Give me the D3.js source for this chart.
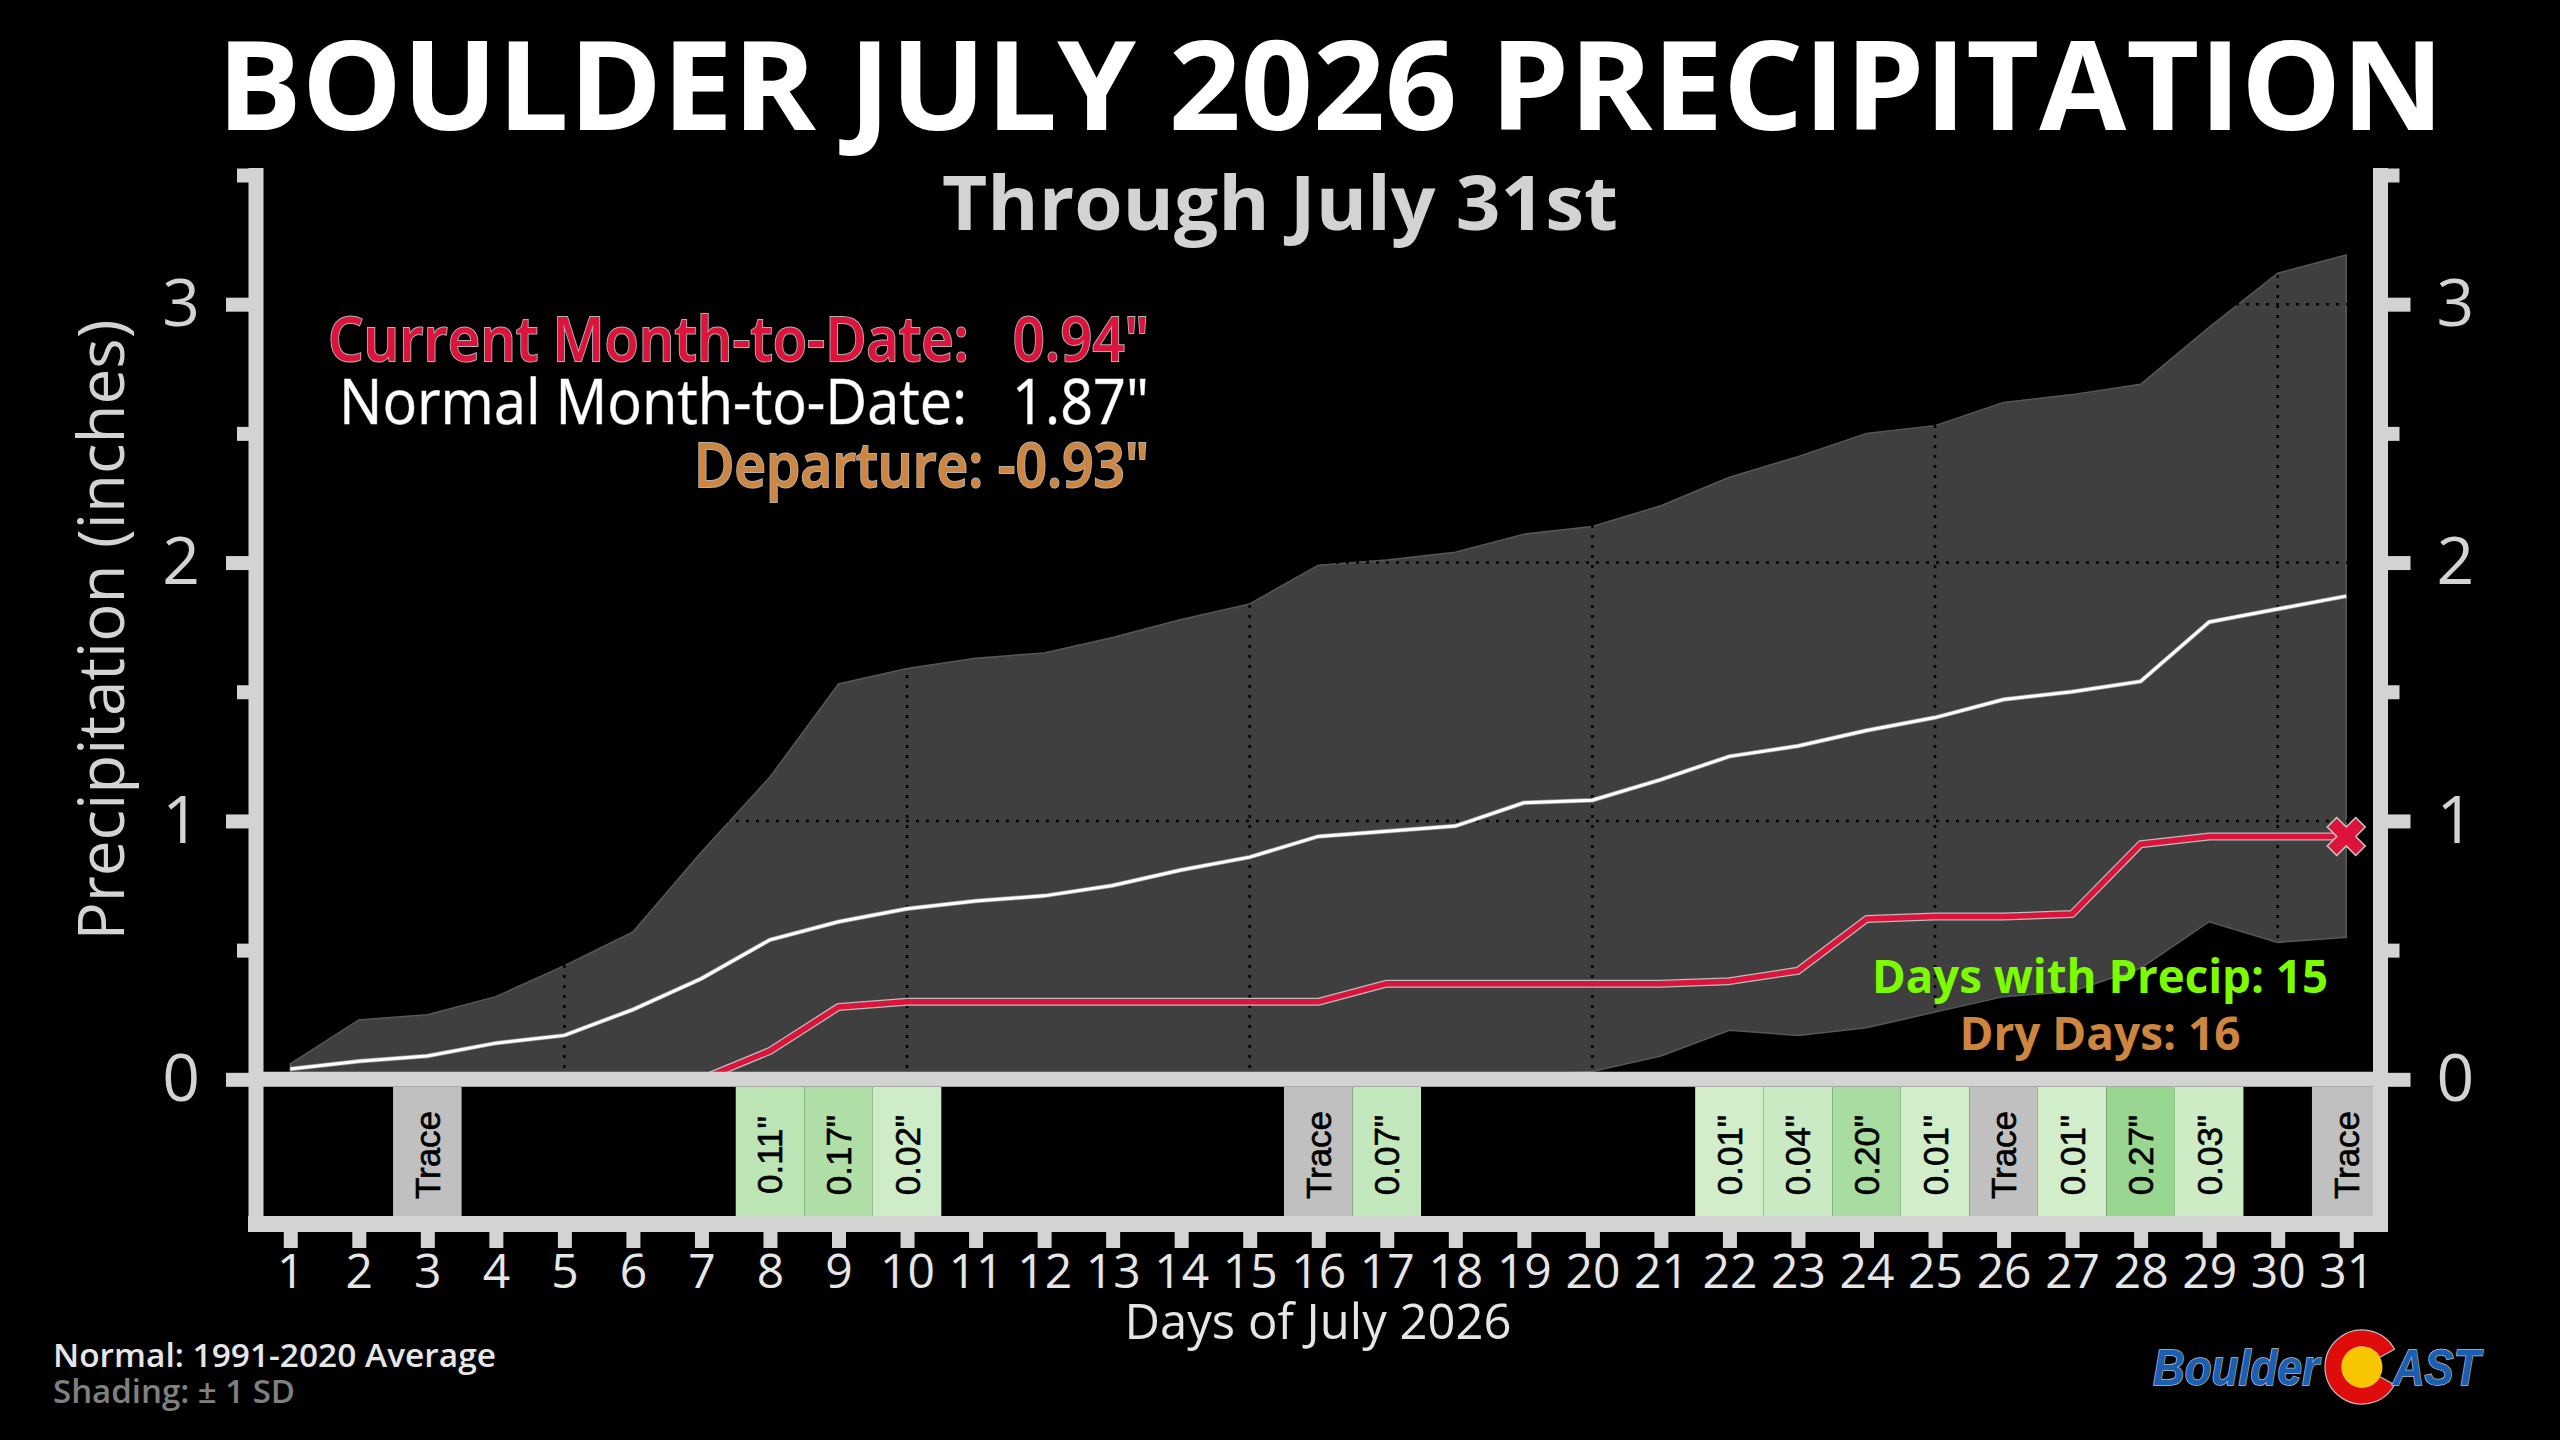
<!DOCTYPE html>
<html>
<head>
<meta charset="utf-8">
<script src="https://cdnjs.cloudflare.com/ajax/libs/d3/7.8.5/d3.min.js"></script>
<style>
  html, body { margin: 0; padding: 0; background: #000; }
  svg { display: block; }
  text { font-family: 'Open Sans', 'Noto Sans', sans-serif; white-space: pre; }
</style>
</head>
<body>
<div id="chart_area"></div>
<script>
// data
const days = d3.range(1, 32);
// daily amounts: 'T' = trace, 0 = dry
const dailyPrecip = [0, 0, 'T', 0, 0, 0, 0, 0.11, 0.17, 0.02, 0, 0, 0, 0, 0, 'T', 0.07, 0, 0, 0,
  0, 0.01, 0.04, 0.20, 0.01, 'T', 0.01, 0.27, 0.03, 0, 'T'];
const currentToDate = [0, 0, 0, 0, 0, 0, 0, 0.11, 0.28, 0.30, 0.30, 0.30, 0.30, 0.30, 0.30, 0.30,
  0.37, 0.37, 0.37, 0.37, 0.37, 0.38, 0.42, 0.62, 0.63, 0.63, 0.64, 0.91, 0.94, 0.94, 0.94];
const normalToDate = [0.04, 0.07, 0.09, 0.14, 0.17, 0.27, 0.39, 0.54, 0.61, 0.66, 0.69, 0.71, 0.75,
  0.81, 0.86, 0.94, 0.96, 0.98, 1.07, 1.08, 1.16, 1.25, 1.29, 1.35, 1.40, 1.47, 1.50, 1.54, 1.77, 1.82, 1.87];
const upperSD = [0.06, 0.23, 0.25, 0.32, 0.44, 0.57, 0.88, 1.17, 1.53, 1.59, 1.63, 1.65, 1.71, 1.78,
  1.84, 1.99, 2.01, 2.04, 2.11, 2.14, 2.22, 2.33, 2.41, 2.50, 2.53, 2.62, 2.65, 2.69, 2.91, 3.12, 3.19];
// lower edge is under zero (clipped) until about day 19
const lowerSD = [0, 0, 0, 0, 0, 0, 0, 0, 0, 0, 0, 0, 0, 0, 0, 0, 0, 0, 0.02, 0.03,
  0.09, 0.19, 0.17, 0.20, 0.26, 0.32, 0.34, 0.43, 0.61, 0.53, 0.55];
const yMajorTicks = [0, 1, 2, 3];
const yMinorTicks = [0.5, 1.5, 2.5, 3.5];
const gridDays = [5, 10, 15, 20, 25, 30];
const monthTotal = 0.94, normalTotal = 1.87, departure = -0.93;
const wetDays = 15, dryDays = 16;

const W = 2560, H = 1440;
const axisGray = '#d3d3d3';

const x = d3.scaleLinear().domain([0.5, 31.5]).range([256, 2380.5]);
const y = d3.scaleLinear().domain([-0.56, 3.5]).range([1224, 175]);

const svg = d3.select('#chart_area').append('svg')
  .attr('width', W).attr('height', H)
  .style('background', '#000');

// clip for the cumulative panel (above zero)
svg.append('clipPath').attr('id', 'plotClip')
  .append('rect')
  .attr('x', x(0.5)).attr('y', y(3.5))
  .attr('width', x(31.5) - x(0.5)).attr('height', y(0) - y(3.5));

const plot = svg.append('g').attr('clip-path', 'url(#plotClip)');

// +/- 1 SD shading
const band = d3.area()
  .x((d, i) => x(days[i]))
  .y0((d, i) => y(lowerSD[i]))
  .y1((d, i) => y(upperSD[i]));
plot.append('path')
  .datum(upperSD)
  .attr('d', band)
  .attr('fill', '#3f3f3f')
  .attr('stroke', '#575757')
  .attr('stroke-width', 1.5);

// dotted grid (only shows over the shading)
plot.selectAll('line.hgrid').data([1, 2, 3]).enter().append('line')
  .attr('class', 'hgrid')
  .attr('x1', x(0.5)).attr('x2', x(31.5))
  .attr('y1', d => y(d)).attr('y2', d => y(d))
  .attr('stroke', '#000').attr('stroke-width', 2.5).attr('stroke-dasharray', '3,7');
plot.selectAll('line.vgrid').data(gridDays).enter().append('line')
  .attr('class', 'vgrid')
  .attr('x1', d => x(d)).attr('x2', d => x(d))
  .attr('y1', y(3.5)).attr('y2', y(0))
  .attr('stroke', '#000').attr('stroke-width', 2.5).attr('stroke-dasharray', '3,7');

const line = d3.line().x((d, i) => x(days[i])).y(d => y(d));

// normal
plot.append('path').datum(normalToDate).attr('d', line)
  .attr('fill', 'none').attr('stroke', '#9a9a9a').attr('stroke-width', 4.5);
plot.append('path').datum(normalToDate).attr('d', line)
  .attr('fill', 'none').attr('stroke', '#fff').attr('stroke-width', 3);

// current
plot.append('path').datum(currentToDate).attr('d', line)
  .attr('fill', 'none').attr('stroke', '#bdbdbd').attr('stroke-width', 8)
  .attr('stroke-linejoin', 'round');
plot.append('path').datum(currentToDate).attr('d', line)
  .attr('fill', 'none').attr('stroke', '#dc143c').attr('stroke-width', 5.5)
  .attr('stroke-linejoin', 'round');

// end marker
svg.append('path')
  .attr('d', d3.symbol().type(d3.symbolCross).size(900)())
  .attr('transform', `translate(${x(31)},${y(monthTotal)}) rotate(45)`)
  .attr('fill', '#dc143c').attr('stroke', '#c8c8c8').attr('stroke-width', 1.5);

// daily boxes
const greens = d3.scaleLinear().domain([0, 0.3]).range(['#d3eecc', '#93d38a']);
const boxTop = y(0) + 7.5, boxBottom = 1216;
const boxes = svg.append('g');
const wet = days.filter((d, i) => dailyPrecip[i] !== 0);
boxes.selectAll('rect').data(wet).enter().append('rect')
  .attr('x', d => x(d - 0.5))
  .attr('width', d => x(d + 0.5) - x(d - 0.5))
  .attr('y', boxTop)
  .attr('height', boxBottom - boxTop)
  .attr('fill', d => dailyPrecip[d - 1] === 'T' ? '#c0c0c0' : greens(dailyPrecip[d - 1]));
boxes.selectAll('text').data(wet).enter().append('text')
  .attr('transform', d => `translate(${x(d)},1155) rotate(-90)`)
  .attr('text-anchor', 'middle')
  .attr('dominant-baseline', 'central')
  .style('font-family', "'Liberation Sans', Arial, sans-serif")
  .style('font-size', '35px')
  .attr('fill', '#000')
  .attr('stroke', '#000').attr('stroke-width', 0.6)
  .text(d => dailyPrecip[d - 1] === 'T' ? 'Trace' : dailyPrecip[d - 1].toFixed(2) + '"');

// frame lines
svg.append('line').attr('x1', x(0.5)).attr('x2', x(31.5)).attr('y1', y(0)).attr('y2', y(0))
  .attr('stroke', axisGray).attr('stroke-width', 15);
svg.append('line').attr('x1', 248).attr('x2', 2388).attr('y1', 1224).attr('y2', 1224)
  .attr('stroke', axisGray).attr('stroke-width', 16);
svg.append('line').attr('x1', x(0.5)).attr('x2', x(0.5)).attr('y1', 168).attr('y2', 1232)
  .attr('stroke', axisGray).attr('stroke-width', 15);
svg.append('line').attr('x1', x(31.5)).attr('x2', x(31.5)).attr('y1', 168).attr('y2', 1232)
  .attr('stroke', axisGray).attr('stroke-width', 15);

function styleAxis(g, size) {
  g.select('.domain').remove();
  g.selectAll('line').attr('stroke', axisGray).attr('stroke-width', 14);
  g.selectAll('text')
    .attr('fill', axisGray)
    .style('font-family', "'Open Sans', sans-serif")
    .style('font-size', size + 'px')
    .style('font-weight', 500);
}

// y axes
svg.append('g').attr('transform', `translate(${x(0.5)},0)`)
  .call(d3.axisLeft(y).tickValues(yMajorTicks).tickSize(30).tickPadding(26).tickFormat(d3.format('d')))
  .call(g => styleAxis(g, 66));
svg.append('g').attr('transform', `translate(${x(0.5)},0)`)
  .call(d3.axisLeft(y).tickValues(yMinorTicks).tickSize(19).tickFormat(''))
  .call(g => styleAxis(g, 66));
svg.append('g').attr('transform', `translate(${x(31.5)},0)`)
  .call(d3.axisRight(y).tickValues(yMajorTicks).tickSize(30).tickPadding(26).tickFormat(d3.format('d')))
  .call(g => styleAxis(g, 66));
svg.append('g').attr('transform', `translate(${x(31.5)},0)`)
  .call(d3.axisRight(y).tickValues(yMinorTicks).tickSize(19).tickFormat(''))
  .call(g => styleAxis(g, 66));

// x axis
svg.append('g').attr('transform', 'translate(0,1224)')
  .call(d3.axisBottom(x).tickValues(days).tickSize(24).tickPadding(6).tickFormat(d3.format('d')))
  .call(g => styleAxis(g, 48))
  .call(g => g.selectAll('text').attr('fill', '#e6e6e6'));

// titles and labels
function label(txt, opts) {
  const t = svg.append('text')
    .attr('x', opts.x).attr('y', opts.y)
    .attr('text-anchor', opts.anchor || 'start')
    .attr('fill', opts.fill || '#fff')
    .style('font-size', opts.size + 'px')
    .style('font-weight', opts.weight || 400)
    .text(txt);
  if (opts.len) t.attr('textLength', opts.len).attr('lengthAdjust', 'spacingAndGlyphs');
  if (opts.stroke) t.attr('stroke', opts.stroke).attr('stroke-width', opts.sw || 2).attr('paint-order', 'stroke');
  if (opts.rotate) t.attr('transform', `rotate(${opts.rotate},${opts.x},${opts.y})`);
  return t;
}

label('BOULDER JULY 2026 PRECIPITATION', { x: 217, y: 130, size: 124, weight: 700, len: 2227 });
label('Through July 31st', { x: 942, y: 230, size: 76, weight: 700, fill: axisGray, len: 676 });

label('Current Month-to-Date:   ' + monthTotal.toFixed(2) + '"', { x: 1149, y: 361, anchor: 'end', size: 62, weight: 600, fill: '#dc143c', stroke: '#b0b0b0', len: 821 });
label('Normal Month-to-Date:   ' + normalTotal.toFixed(2) + '"', { x: 1149, y: 424, anchor: 'end', size: 62, weight: 500, fill: '#fff', stroke: '#888', sw: 1, len: 810 });
label('Departure: ' + departure.toFixed(2) + '"', { x: 1149, y: 487, anchor: 'end', size: 62, weight: 600, fill: '#cd853f', stroke: '#b0b0b0', len: 455 });

label('Days with Precip: ' + wetDays, { x: 2100, y: 993, anchor: 'middle', size: 46, weight: 700, fill: '#7cfc00', len: 456 });
label('Dry Days: ' + dryDays, { x: 2100, y: 1050, anchor: 'middle', size: 46, weight: 700, fill: '#cd853f', len: 281 });

label('Precipitation (inches)', { x: 124, y: 630, anchor: 'middle', size: 64, fill: axisGray, len: 621, rotate: -90 });
label('Days of July 2026', { x: 1318, y: 1339, anchor: 'middle', size: 50, fill: '#e6e6e6', len: 387 });

label('Normal: 1991-2020 Average', { x: 53, y: 1367, size: 33, weight: 600, fill: '#e6e6e6', len: 443 });
label('Shading: \u00b1 1 SD', { x: 53, y: 1403, size: 33, weight: 600, fill: '#808080', len: 242 });

// logo
const logo = svg.append('g');
logo.append('path')
  .attr('d', d3.arc().innerRadius(20).outerRadius(37).startAngle(Math.PI / 2 + 0.5).endAngle(Math.PI / 2 + 2 * Math.PI - 0.5)())
  .attr('transform', 'translate(2362,1367)')
  .attr('fill', '#e00b0b').attr('stroke', '#c0c0c0').attr('stroke-width', 1.2);
logo.append('circle').attr('cx', 2362).attr('cy', 1367).attr('r', 20.5).attr('fill', '#f7c600');
logo.append('text').attr('x', 2153).attr('y', 1385)
  .style('font-family', "'Liberation Sans', Arial, sans-serif")
  .style('font-size', '50px').style('font-weight', 700).style('font-style', 'italic')
  .attr('fill', '#1a5fb4').attr('stroke', '#c0c0c0').attr('stroke-width', 1.5).attr('paint-order', 'stroke')
  .attr('textLength', 166).attr('lengthAdjust', 'spacingAndGlyphs')
  .text('Boulder');
logo.append('text').attr('x', 2393).attr('y', 1385)
  .style('font-family', "'Liberation Sans', Arial, sans-serif")
  .style('font-size', '50px').style('font-weight', 700).style('font-style', 'italic')
  .attr('fill', '#1a5fb4').attr('stroke', '#c0c0c0').attr('stroke-width', 1.5).attr('paint-order', 'stroke')
  .attr('textLength', 87).attr('lengthAdjust', 'spacingAndGlyphs')
  .text('AST');
</script>
</body>
</html>
